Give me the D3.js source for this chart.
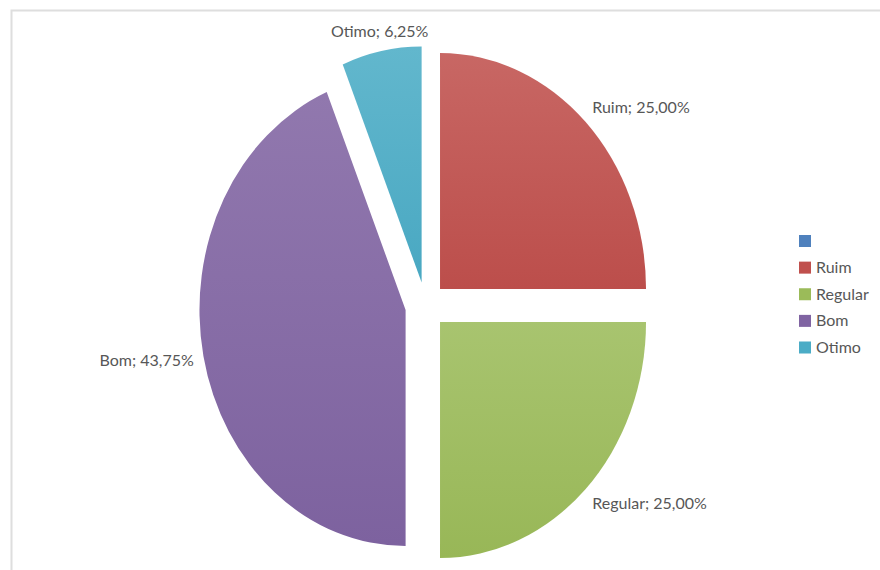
<!DOCTYPE html>
<html>
<head>
<meta charset="utf-8">
<script src="https://cdn.jsdelivr.net/npm/d3@7"></script>
<style>
  html, body { margin: 0; padding: 0; background: #fff; }
  svg { display: block; }
  text { font-family: Lato, "Open Sans", sans-serif; fill: #575757; }
</style>
</head>
<body>
<svg id="chart" width="880" height="570"></svg>
<script>
// Category names and their shares (percent); the first category is empty.
const categories = ["", "Ruim", "Regular", "Bom", "Otimo"];
const shares = [0, 25.00, 25.00, 43.75, 6.25];
const colors = ["#4F81BD", "#C0504D", "#9BBB59", "#8064A2", "#4BACC6"];
const labelText = (name, v) => `${name}; ${v.toFixed(2).replace(".", ",")}%`;

const svg = d3.select("#chart");

// Chart frame (runs off the right and bottom edges)
svg.append("rect")
  .attr("x", 11.5).attr("y", 10.5)
  .attr("width", 1000).attr("height", 1000)
  .attr("fill", "none").attr("stroke", "#dedede").attr("stroke-width", 2);

// Pie geometry: the pie is drawn on a unit circle and stretched to an ellipse
const cx = 425.6, cy = 305.5, rx = 206, ry = 236, explode = 0.099;

const defs = svg.append("defs");
colors.forEach((c, i) => {
  const g = defs.append("linearGradient")
    .attr("id", "grad" + i)
    .attr("x1", 0).attr("y1", 0).attr("x2", 0).attr("y2", 1);
  g.append("stop").attr("offset", 0).attr("stop-color", d3.interpolateRgb(c, "#ffffff")(0.13));
  g.append("stop").attr("offset", 1).attr("stop-color", d3.color(c).darker(0.06));
});

const pie = d3.pie().sort(null).value(d => d.value);
const data = pie(categories.map((name, i) => ({ name, value: shares[i], i })));
const arc = d3.arc().innerRadius(0).outerRadius(1);

const slices = data.filter(d => d.data.value > 0);

const offsetOf = d => {
  const mid = (d.startAngle + d.endAngle) / 2;
  return [cx + Math.sin(mid) * explode * rx, cy - Math.cos(mid) * explode * ry, mid];
};

svg.append("g").selectAll("path")
  .data(slices)
  .join("path")
  .attr("transform", d => {
    const [ox, oy] = offsetOf(d);
    return `translate(${ox},${oy}) scale(${rx},${ry})`;
  })
  .attr("d", arc)
  .attr("fill", d => `url(#grad${d.data.i})`);

// Data labels just outside each slice
svg.append("g").selectAll("text")
  .data(slices)
  .join("text")
  .each(function (d) {
    const [ox, oy, mid] = offsetOf(d);
    const s = Math.sin(mid), c = Math.cos(mid);
    const px = ox + s * rx, py = oy - c * ry;
    const len = Math.hypot(s * rx, c * ry);
    const ux = s * rx / len, uy = -c * ry / len;
    const lx = px + ux * 10, ly = py + uy * 10 - c * 10;
    const anchor = s > 0.3 ? "start" : (s < -0.3 ? "end" : "middle");
    d3.select(this)
      .attr("x", lx).attr("y", ly)
      .attr("dy", "0.35em")
      .attr("text-anchor", anchor)
      .attr("font-size", 16)
      .text(labelText(d.data.name, d.data.value));
  });

// Legend
const legendY = d3.scalePoint().domain(d3.range(categories.length)).range([241, 347.5]);
const legend = svg.append("g").selectAll("g")
  .data(categories.map((name, i) => ({ name, i })))
  .join("g")
  .attr("transform", d => `translate(799,${legendY(d.i)})`);
legend.append("rect")
  .attr("x", 0).attr("y", -6).attr("width", 12).attr("height", 12)
  .attr("fill", d => colors[d.i]);
legend.append("text")
  .attr("x", 17).attr("y", 0).attr("dy", "0.35em")
  .attr("font-size", 16)
  .text(d => d.name);
</script>
</body>
</html>
